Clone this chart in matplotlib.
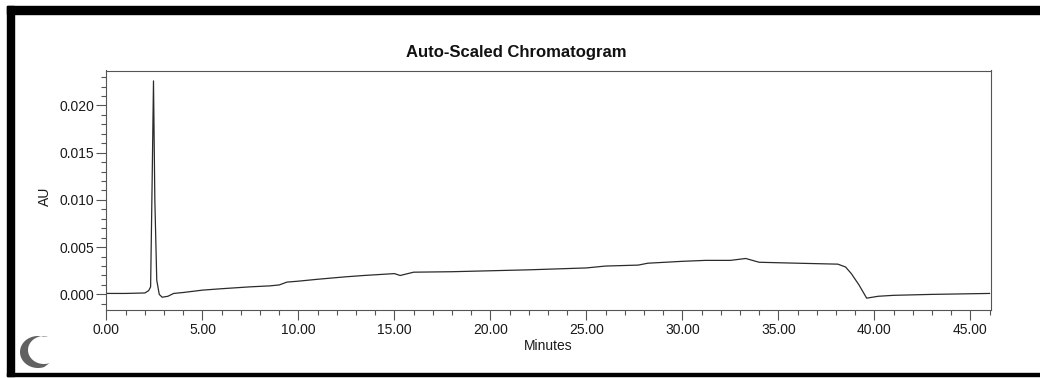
import matplotlib
matplotlib.use("Agg")
import matplotlib.pyplot as plt
from matplotlib.ticker import MultipleLocator, FormatStrFormatter
from matplotlib.patches import Rectangle, Polygon
import numpy as np

plt.rcParams['font.family'] = ['Liberation Sans', 'DejaVu Sans']

# retention time (min) and detector response (AU)
minutes = [0.0, 1.0, 2.0, 2.2, 2.3, 2.38, 2.45, 2.52, 2.62, 2.75, 2.9, 3.2, 3.5,
           4.0, 5.0, 6.0, 7.5, 8.5, 9.0, 9.4, 10.0, 11.0, 12.4, 13.4, 15.0,
           15.3, 16.0, 18.0, 20.0, 22.0, 25.0, 26.0, 27.7, 28.2, 30.0, 31.2,
           32.5, 33.3, 34.0, 36.0, 38.1, 38.5, 38.8, 39.2, 39.6, 40.2, 41.0,
           43.0, 46.0]
au = [0.0001, 0.0001, 0.00015, 0.0004, 0.0008, 0.012, 0.0226, 0.010, 0.0015,
      0.0, -0.0003, -0.0002, 0.0001, 0.0002, 0.00045, 0.0006, 0.0008, 0.0009,
      0.0010, 0.0013, 0.0014, 0.0016, 0.00185, 0.0020, 0.0022, 0.0020,
      0.00235, 0.0024, 0.0025, 0.0026, 0.0028, 0.0030, 0.0031, 0.0033,
      0.0035, 0.0036, 0.0036, 0.0038, 0.0034, 0.0033, 0.0032, 0.0029,
      0.0022, 0.0010, -0.0004, -0.0002, -0.0001, 0.0, 0.0001]

fig = plt.figure(figsize=(10.4, 3.78), dpi=100)
W, H = 1040, 378

ax = fig.add_axes([105.5 / W, 1 - 309.5 / H, 885 / W, 239 / H])
ax.plot(minutes, au, color='#2b2b2b', lw=0.9)

ax.set_xlim(-0.05, 46.05)
ax.set_ylim(-0.0016, 0.0237)
ax.xaxis.set_major_locator(MultipleLocator(5))
ax.xaxis.set_minor_locator(MultipleLocator(1))
ax.yaxis.set_major_locator(MultipleLocator(0.005))
ax.yaxis.set_minor_locator(MultipleLocator(0.001))
ax.xaxis.set_major_formatter(FormatStrFormatter('%.2f'))
ax.yaxis.set_major_formatter(FormatStrFormatter('%.3f'))
ax.tick_params(which='both', direction='out', color='#555555', width=0.8,
               labelsize=10, labelcolor='#1a1a1a')
ax.tick_params(which='major', length=7)
ax.tick_params(which='minor', length=3.5)
ax.tick_params(axis='y', pad=1)
ax.tick_params(axis='x', pad=3)
for s in ax.spines.values():
    s.set_color('#555555')
    s.set_linewidth(0.8)

ax.set_xlabel('Minutes', fontsize=10, color='#1a1a1a', labelpad=1)
fig.text(45 / W, 1 - 196 / H, 'AU', rotation=90, fontsize=10,
         color='#1a1a1a', ha='center', va='center')
fig.text(516 / W, 1 - 52 / H, 'Auto-Scaled Chromatogram', fontsize=12,
         fontweight='bold', color='#111111', ha='center', va='center')

# black frame and smudge, drawn in pixel coordinates
ov = fig.add_axes([0, 0, 1, 1], zorder=-1)
ov.set_xlim(0, W)
ov.set_ylim(H, 0)
ov.axis('off')
ov.add_patch(Rectangle((7, 6), W, 8, color='black'))
ov.add_patch(Rectangle((7, 6), 7, 370, color='black'))
ov.add_patch(Rectangle((7, 373), W, 3, color='black'))

a_out = np.radians(np.linspace(70, 285, 60))
a_in = np.radians(np.linspace(285, 70, 60))
outer = np.column_stack([38 + 18 * np.cos(a_out), 352 + 16 * np.sin(a_out)])
inner = np.column_stack([44 + 16 * np.cos(a_in), 350 + 14 * np.sin(a_in)])
ov.add_patch(Polygon(np.vstack([outer, inner]), closed=True,
                     color='#3a3a3a', alpha=0.8, lw=0))

fig.savefig('out.png', dpi=100, facecolor='white')
